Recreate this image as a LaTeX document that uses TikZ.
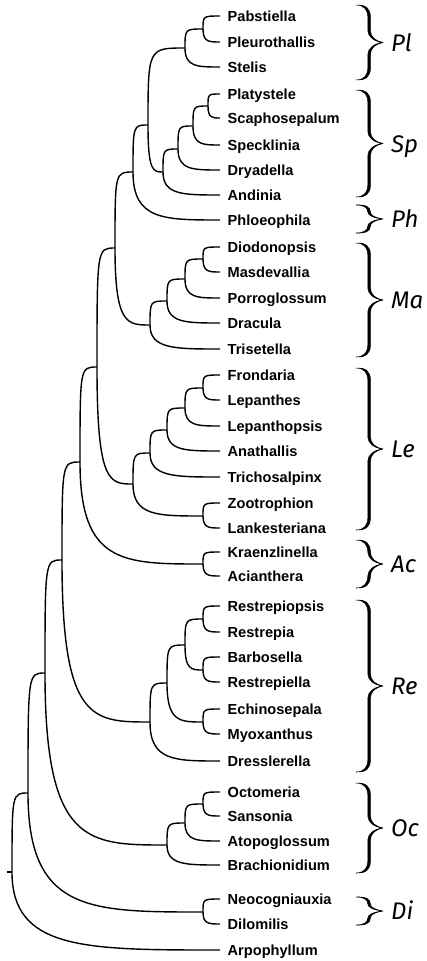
\documentclass[tikz,border=0pt]{standalone}
\usepackage{fontspec}
\setmainfont{Liberation Sans}
\newfontfamily\cladefont{Fira Sans}
\usetikzlibrary{calc}

\begin{document}
\begin{tikzpicture}[
  x=1pt, y=-1pt,
  leaf/.style={anchor=west, inner xsep=7.5pt, inner ysep=0pt,
    text height=10.5pt, text depth=0pt,
    font=\fontsize{14.6}{16}\selectfont\bfseries},
  clade/.style={anchor=west, inner sep=0pt, text height=17pt, text depth=0pt,
    font=\fontsize{24}{26}\selectfont\cladefont\itshape},
  twig/.style={line width=1.4pt},
  cbrace/.style={fill=black, draw=black, line width=0.5pt, line join=round},
  % upper child: tight elbow, lower child: long sweep
  hi/.style={to path={.. controls (\tikztostart |- \tikztotarget) .. (\tikztotarget)}},
  lo/.style={to path={.. controls (\tikztostart |- \tikztotarget)
      and ($(\tikztostart |- \tikztotarget)!.35!(\tikztotarget)$) .. (\tikztotarget)}}]
  \useasboundingbox (0,0) rectangle (427,961);

  % tips
  \foreach \n/\y/\t in {pab/16/Pabstiella, pleu/42/Pleurothallis, stel/67/Stelis,
      platy/94/Platystele, scaph/118/Scaphosepalum, speck/145/Specklinia,
      dryad/170/Dryadella, andin/195/Andinia, phloe/220/Phloeophila,
      diodo/247/Diodonopsis, masde/272/Masdevallia, porro/298/Porroglossum,
      dracu/323/Dracula, trise/349/Trisetella, frond/375/Frondaria,
      lepan/400/Lepanthes, lepps/426/Lepanthopsis, anath/451/Anathallis,
      trich/477/Trichosalpinx, zootr/503/Zootrophion, lanke/528/Lankesteriana,
      kraen/552/Kraenzlinella, acian/576/Acianthera, rstps/606/Restrepiopsis,
      rstra/632/Restrepia, barbo/657/Barbosella, rstla/682/Restrepiella,
      echin/709/Echinosepala, myoxa/734/Myoxanthus, dress/761/Dresslerella,
      octom/792/Octomeria, sanso/816/Sansonia, atopo/841/Atopoglossum,
      brach/865/Brachionidium, neoco/899/Neocogniauxia, dilom/924/Dilomilis,
      arpop/950/Arpophyllum}
    \node[leaf] (\n) at (220,\y) {\t};

  % internal nodes
  \foreach \n/\x/\y in {nPP/203/29, nPl/185/48, nPS/208/106, nSpe/193/126,
      nDry/178/149, nSp/163/172, nPlSp/148/125, nPh/133/172,
      nDM/203/259, nPor/185/279, nDra/167/301, nMa/150/325, nA/115/248,
      nFL/203/388, nLpp/185/408, nAna/167/430, nTri/150/453, nZL/203/516,
      nLe/133/484, nB/97/367, nAc/203/564, nC/80/462,
      nRR/203/619, nBR/203/670, nRB/185/645, nEM/203/722, nRBE/167/683,
      nRe/150/722, nD/62/560, nOS/203/804, nAt/185/823, nOc/167/845,
      nE/45/673, nDi/203/912, nF/28/793, nG/12/872}
    \coordinate (\n) at (\x,\y);
  \coordinate (base) at (7,872);

  % branches
  \foreach \p/\a/\b in {nPP/pab.west/pleu.west, nPl/nPP/stel.west,
      nPS/platy.west/scaph.west, nSpe/nPS/speck.west, nDry/nSpe/dryad.west,
      nSp/nDry/andin.west, nPlSp/nPl/nSp, nPh/nPlSp/phloe.west,
      nDM/diodo.west/masde.west, nPor/nDM/porro.west, nDra/nPor/dracu.west,
      nMa/nDra/trise.west, nA/nPh/nMa,
      nFL/frond.west/lepan.west, nLpp/nFL/lepps.west, nAna/nLpp/anath.west,
      nTri/nAna/trich.west, nZL/zootr.west/lanke.west, nLe/nTri/nZL,
      nB/nA/nLe, nAc/kraen.west/acian.west, nC/nB/nAc,
      nRR/rstps.west/rstra.west, nBR/barbo.west/rstla.west, nRB/nRR/nBR,
      nEM/echin.west/myoxa.west, nRBE/nRB/nEM, nRe/nRBE/dress.west,
      nD/nC/nRe, nOS/octom.west/sanso.west, nAt/nOS/atopo.west,
      nOc/nAt/brach.west, nE/nD/nOc, nDi/neoco.west/dilom.west,
      nF/nE/nDi, nG/nF/arpop.west}
    \draw[twig] (\p) to[hi] (\a) (\p) to[lo] (\b);
  \draw[twig] (base) -- (nG);

  % clade braces (filled, thick stems, thin ends)
  \foreach \t/\b/\lab in {5/80/Pl, 90/197/Sp, 205/233/Ph, 243/357/Ma,
      368/530/Le, 540/588/Ac, 600/772/Re, 783/873/Oc, 897/925/Di} {
    \pgfmathsetmacro\m{(\t+\b)/2}
    \pgfmathsetmacro\c{min(12,(\b-\t)/4)}
    \filldraw[cbrace] (356,\t)
      .. controls (366,\t-0.5) and (370.4,\t+0.3*\c) .. (370.4,\t+\c)
      -- (370.4,\m-\c) .. controls (370.4,\m-0.45*\c) and (376,\m-1.2) .. (383,\m)
      .. controls (376,\m+1.2) and (370.4,\m+0.45*\c) .. (370.4,\m+\c)
      -- (370.4,\b-\c) .. controls (370.4,\b-0.3*\c) and (366,\b+0.5) .. (356,\b)
      .. controls (364,\b) and (367.8,\b-0.4*\c) .. (367.8,\b-\c)
      -- (367.8,\m+\c) .. controls (367.8,\m+0.5*\c) and (374,\m+0.8) .. (383,\m)
      .. controls (374,\m-0.8) and (367.8,\m-0.5*\c) .. (367.8,\m-\c)
      -- (367.8,\t+\c) .. controls (367.8,\t+0.4*\c) and (364,\t) .. (356,\t) -- cycle;
    \node[clade] (lab\lab) at (391,\m) {\lab};
  }
\end{tikzpicture}
\end{document}
